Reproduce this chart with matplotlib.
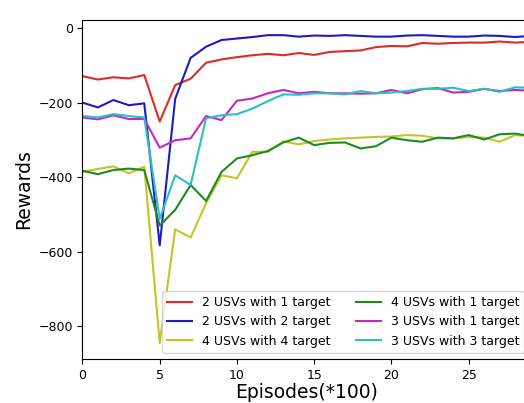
import numpy as np
import matplotlib
matplotlib.use("Agg")
import matplotlib.pyplot as plt

# episodes (*100)
episodes = np.arange(30)

# rewards
r_2usv_1t = [-129, -138, -132, -135, -126, -251, -153, -136, -93, -84,
             -78, -73, -69, -73, -67, -72, -64, -62, -60, -51,
             -48, -49, -40, -42, -40, -39, -39, -36, -39, -37]
r_2usv_2t = [-200, -213, -193, -207, -202, -583, -190, -80, -50, -32,
             -28, -24, -19, -19, -23, -20, -21, -19, -21, -23,
             -23, -20, -19, -21, -23, -23, -20, -21, -24, -21]
r_4usv_4t = [-386, -378, -371, -390, -372, -845, -540, -562, -470, -395,
             -403, -332, -332, -304, -312, -303, -299, -296, -294, -292,
             -291, -287, -289, -296, -296, -292, -294, -305, -287, -290]
r_4usv_1t = [-383, -392, -381, -377, -381, -530, -488, -421, -464, -386,
             -350, -341, -330, -307, -294, -314, -308, -307, -323, -317,
             -294, -301, -305, -294, -296, -287, -299, -285, -283, -290]
r_3usv_1t = [-240, -245, -234, -244, -244, -321, -301, -296, -236, -247,
             -195, -189, -175, -166, -175, -171, -175, -175, -176, -175,
             -166, -175, -164, -161, -173, -171, -163, -169, -166, -168]
r_3usv_3t = [-236, -240, -231, -236, -240, -512, -395, -421, -242, -234,
             -231, -216, -196, -178, -179, -175, -175, -178, -169, -175,
             -173, -169, -163, -163, -160, -169, -163, -171, -159, -160]

fig = plt.figure(figsize=(5.24, 4.03), dpi=100)
# axes runs a little past the right edge, like the cropped original
ax = fig.add_axes([0.1574, 0.1092, 0.855, 0.841])

ax.plot(episodes, r_2usv_1t, color="#e02a2a", lw=1.5, label="2 USVs with 1 target")
ax.plot(episodes, r_2usv_2t, color="#1c1cc4", lw=1.5, label="2 USVs with 2 target")
ax.plot(episodes, r_4usv_4t, color="#c4c42a", lw=1.5, label="4 USVs with 4 target")
ax.plot(episodes, r_4usv_1t, color="#208a20", lw=1.5, label="4 USVs with 1 target")
ax.plot(episodes, r_3usv_1t, color="#c02ac0", lw=1.5, label="3 USVs with 1 target")
ax.plot(episodes, r_3usv_3t, color="#2ac0c0", lw=1.5, label="3 USVs with 3 target")

ax.set_xlim(0, 29)
ax.set_ylim(-888, 21.5)
ax.set_xticks([0, 5, 10, 15, 20, 25])
ax.set_yticks([0, -200, -400, -600, -800])
ax.tick_params(labelsize=9)

ax.set_xlabel("Episodes(*100)", fontsize=13.5, labelpad=1)
ax.set_ylabel("Rewards", fontsize=13.5)

ax.legend(loc="lower right", ncol=2, fontsize=9)

fig.savefig("out.png", dpi=100)
